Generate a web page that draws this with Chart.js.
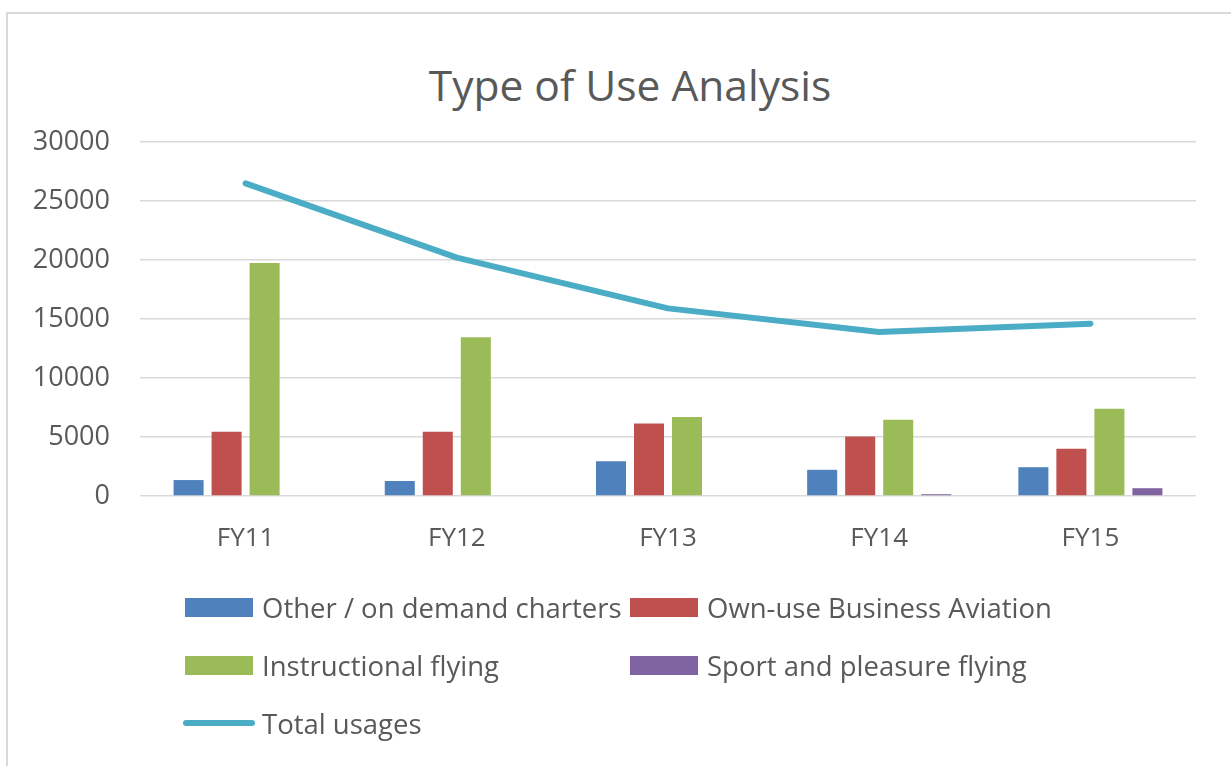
<!DOCTYPE html>
<html>
<head>
<meta charset="utf-8">
<script src="https://cdn.jsdelivr.net/npm/chart.js@4.4.0/dist/chart.umd.min.js"></script>
<style>
  html, body { margin: 0; padding: 0; background: #ffffff; }
  body { width: 1231px; height: 766px; position: relative; overflow: hidden; font-family: 'Open Sans', sans-serif; }
  #frame { position: absolute; left: 6px; top: 12px; width: 1240px; height: 770px;
           border-left: 2px solid #d9d9d9; border-top: 2px solid #d9d9d9; box-sizing: border-box; }
  #title { position: absolute; left: 0; top: 60px; width: 1260px; height: 50px; line-height: 50px;
           text-align: center; font-size: 42.5px; color: #595959; white-space: nowrap; }
  #wrap { position: absolute; left: 0; top: 0; width: 1231px; height: 570px; }
  #legend { position: absolute; left: 0; top: 0; width: 1231px; height: 766px; pointer-events: none; }
  .item { position: absolute; display: flex; align-items: center; color: #595959; font-size: 27.5px; white-space: nowrap; }
  .swatch { width: 68px; height: 19px; margin-right: 9px; }
  .lineswatch { width: 72px; height: 6px; border-radius: 3px; margin-right: 7px; margin-left: -2px; }
</style>
</head>
<body>
<div id="frame"></div>
<div id="title">Type of Use Analysis</div>
<div id="wrap"><canvas id="c"></canvas></div>
<div id="legend"></div>
<script>
const categories = ['FY11', 'FY12', 'FY13', 'FY14', 'FY15'];
const otherCharters = [1350, 1270, 2950, 2220, 2440];
const ownUseBusiness = [5450, 5450, 6150, 5040, 4000];
const instructional = [19750, 13450, 6700, 6460, 7400];
const sportPleasure = [0, 0, 0, 150, 660];
const totalUsages = [26500, 20200, 15900, 13900, 14600];
const yTicks = [0, 5000, 10000, 15000, 20000, 25000, 30000];

const seriesNames = ['Other / on demand charters', 'Own-use Business Aviation', 'Instructional flying', 'Sport and pleasure flying', 'Total usages'];
const colors = ['#4F81BD', '#C0504D', '#9BBB59', '#8064A2', '#4BACC6'];

Chart.defaults.font.family = "'Open Sans', sans-serif";
Chart.defaults.color = '#595959';

const barCommon = { type: 'bar', categoryPercentage: 0.72, barPercentage: 0.79, order: 2 };

const chart = new Chart(document.getElementById('c'), {
  data: {
    labels: categories,
    datasets: [
      Object.assign({ label: seriesNames[0], data: otherCharters, backgroundColor: colors[0] }, barCommon),
      Object.assign({ label: seriesNames[1], data: ownUseBusiness, backgroundColor: colors[1] }, barCommon),
      Object.assign({ label: seriesNames[2], data: instructional, backgroundColor: colors[2] }, barCommon),
      Object.assign({ label: seriesNames[3], data: sportPleasure, backgroundColor: colors[3] }, barCommon),
      { type: 'line', label: seriesNames[4], data: totalUsages, borderColor: colors[4], backgroundColor: colors[4],
        borderWidth: 6, pointRadius: 0, tension: 0, borderCapStyle: 'round', borderJoinStyle: 'round', order: 0 }
    ]
  },
  options: {
    responsive: true,
    maintainAspectRatio: false,
    animation: false,
    layout: { padding: { left: 0, right: 35, top: 142, bottom: 0 } },
    plugins: {
      legend: { display: false },
      tooltip: { enabled: false },
      title: { display: false }
    },
    scales: {
      x: {
        grid: { display: false, drawTicks: false },
        border: { display: false },
        ticks: { font: { size: 26 }, color: '#595959', padding: 27 },
        afterFit: (s) => { s.height = 74; }
      },
      y: {
        min: 0, max: 30000,
        afterBuildTicks: (s) => { s.ticks = yTicks.map(v => ({ value: v })); },
        grid: { color: '#d9d9d9', lineWidth: 1.5, drawTicks: false },
        border: { display: false },
        ticks: { font: { size: 27 }, color: '#595959', padding: 30, callback: (v) => String(v) },
        afterFit: (s) => { s.width = 140; }
      }
    }
  }
});

// HTML legend built from the chart's datasets
const legendPos = [
  { x: 185, y: 607 }, { x: 630, y: 607 },
  { x: 185, y: 665 }, { x: 630, y: 665 },
  { x: 185, y: 723 }
];
const legendEl = document.getElementById('legend');
chart.data.datasets.forEach((ds, i) => {
  const it = document.createElement('div');
  it.className = 'item';
  it.style.left = legendPos[i].x + 'px';
  it.style.top = (legendPos[i].y - 19) + 'px';
  it.style.height = '38px';
  const sw = document.createElement('span');
  sw.className = ds.type === 'line' ? 'lineswatch' : 'swatch';
  sw.style.background = ds.type === 'line' ? ds.borderColor : ds.backgroundColor;
  const tx = document.createElement('span');
  tx.textContent = ds.label;
  it.appendChild(sw); it.appendChild(tx);
  legendEl.appendChild(it);
});
</script>
</body>
</html>
